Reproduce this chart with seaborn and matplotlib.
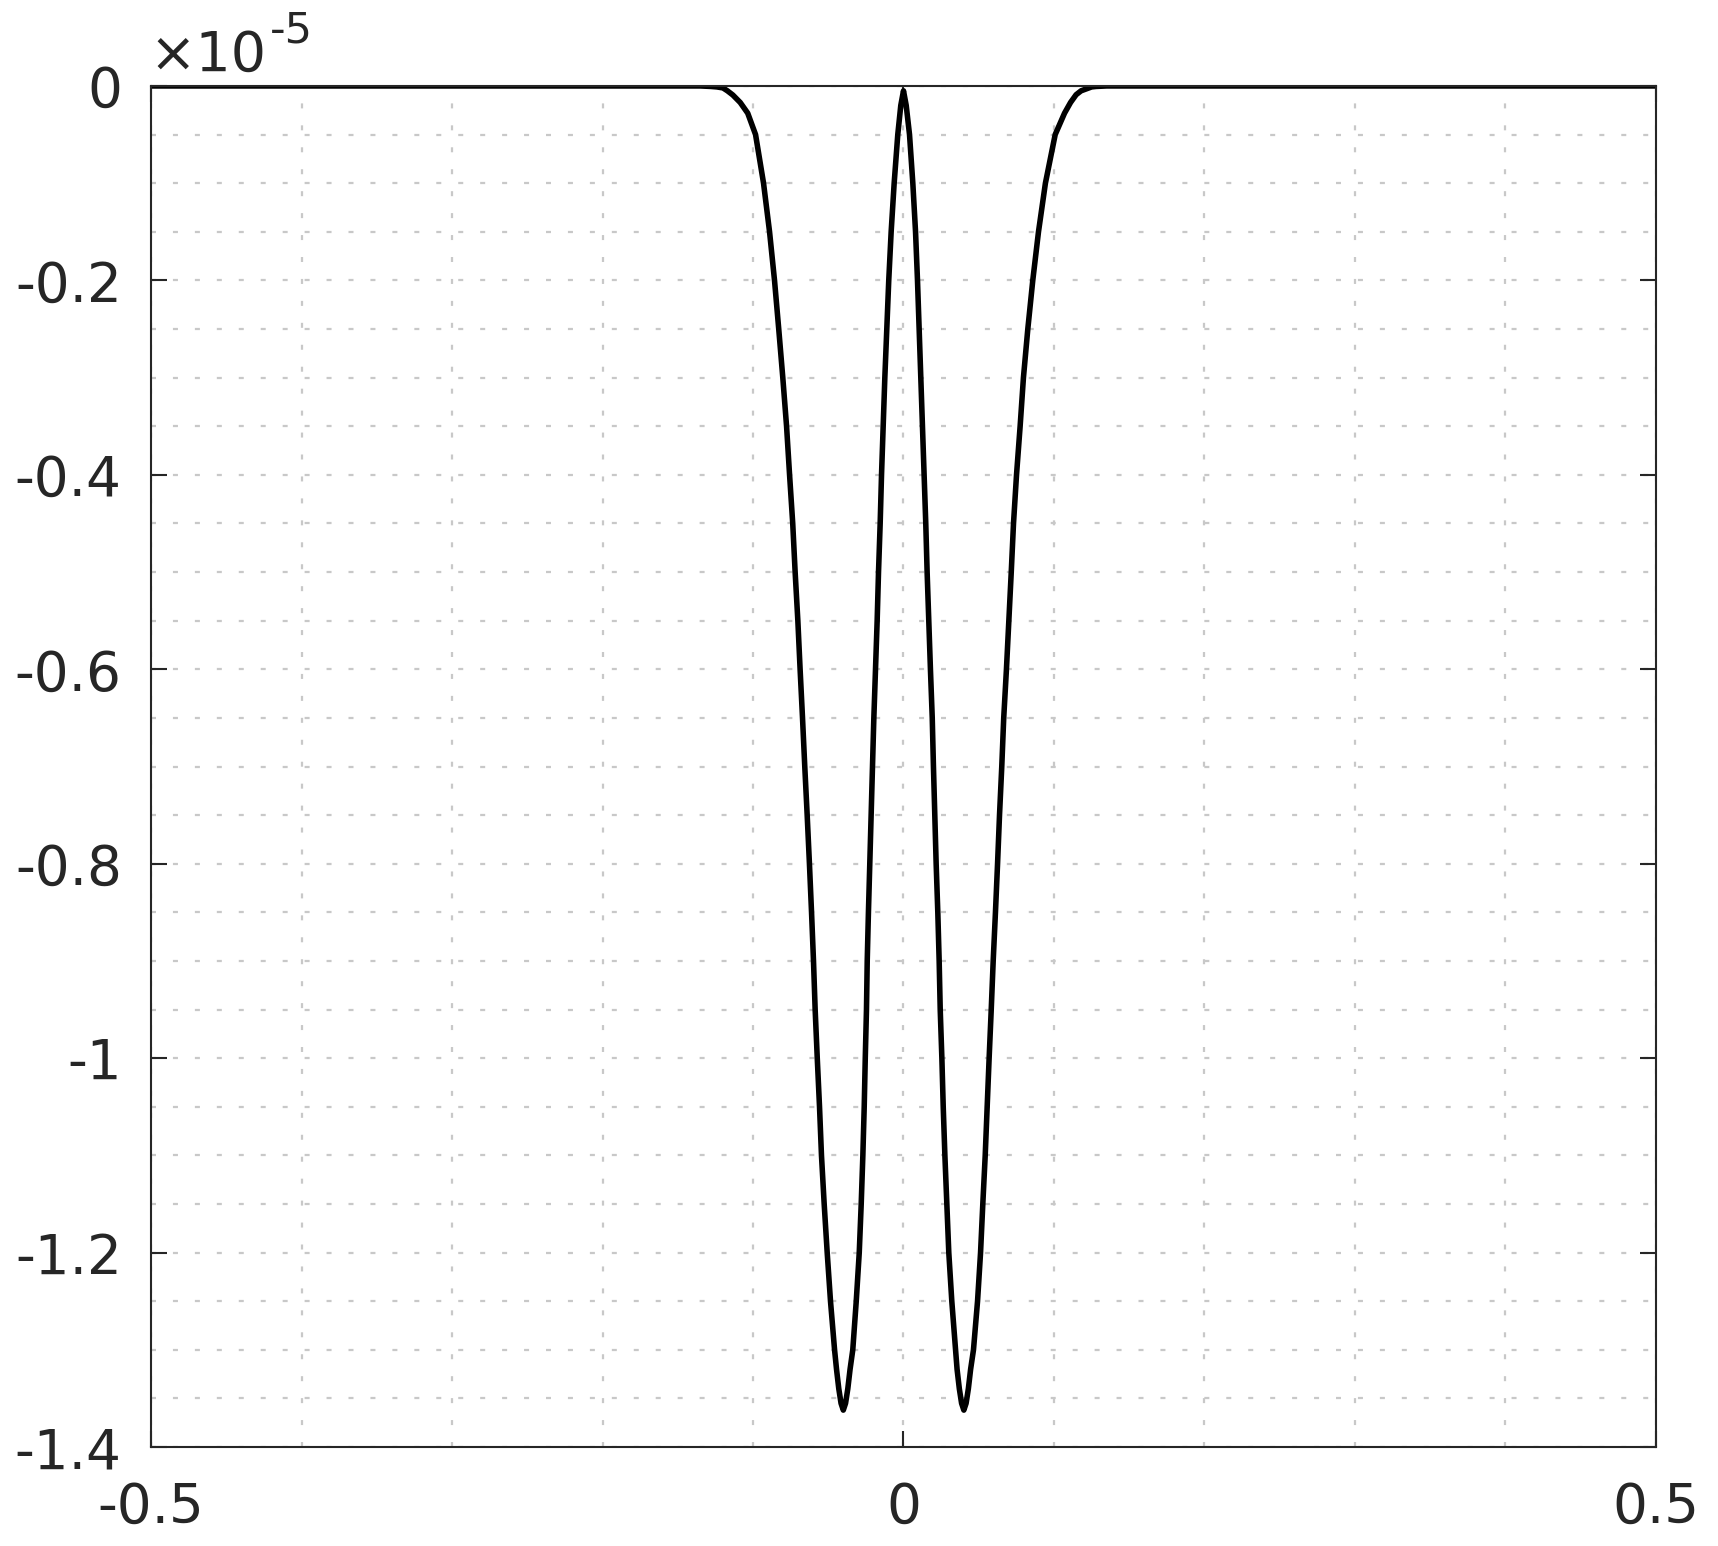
import numpy as np
import pandas as pd
import seaborn as sns
import matplotlib.pyplot as plt
from matplotlib.ticker import FixedLocator, FixedFormatter, MultipleLocator

# curve (y in units of 1e-5)
x_pos = [-0.5, -0.3, -0.15, -0.135, -0.128, -0.124, -0.120, -0.117, -0.1134, -0.1085,
         -0.1035, -0.0983, -0.0930,
         -0.0890, -0.0857, -0.0829, -0.0802, -0.0777, -0.0757, -0.0736, -0.0720, -0.0702,
         -0.0687, -0.0671, -0.0656, -0.0640, -0.0625, -0.0611, -0.0598, -0.0587, -0.0573,
         -0.0558, -0.0545, -0.0527, -0.0507, -0.0485, -0.0458, -0.0445, -0.0430, -0.0415,
         -0.0400, -0.0385, -0.0370, -0.0355, -0.0337, -0.0314, -0.0294, -0.0281, -0.0270,
         -0.0261, -0.0254,
         -0.0246, -0.0241, -0.0233, -0.0224, -0.0215, -0.0206, -0.0197, -0.0186, -0.0175,
         -0.0166, -0.0155, -0.0146, -0.0135, -0.0124, -0.0111, -0.0098, -0.0082, -0.0062,
         -0.0038, -0.0018, 0.0, 0.0018, 0.0040, 0.0062, 0.0080, 0.0093, 0.0104, 0.0115,
         0.0126, 0.0137, 0.0148, 0.0157, 0.0168, 0.0179, 0.0191, 0.0199, 0.0208, 0.0217,
         0.0228, 0.0237, 0.0244, 0.0255, 0.0264, 0.0275, 0.0288, 0.0301, 0.0321, 0.0346,
         0.0356, 0.0371, 0.0386, 0.0401, 0.0416, 0.0431, 0.0446,
         0.0465, 0.0492, 0.0512, 0.0527, 0.0543,
         0.0556, 0.0569, 0.0583, 0.0596, 0.0611, 0.0625, 0.0638, 0.0653, 0.0666, 0.0684,
         0.0700, 0.0716, 0.0731, 0.0751, 0.0775, 0.0797, 0.0826, 0.0859, 0.0897, 0.0943,
         0.1008, 0.107, 0.111, 0.1147, 0.118, 0.1214, 0.125, 0.128, 0.135, 0.15, 0.3, 0.5]
y_val = [0, 0, 0, 0, -0.0005, -0.001, -0.002, -0.005, -0.0093, -0.017,
         -0.028, -0.05, -0.10,
         -0.15, -0.20, -0.25, -0.30, -0.35, -0.40, -0.45, -0.50, -0.55,
         -0.60, -0.65, -0.70, -0.75, -0.80, -0.85, -0.90, -0.95, -1.00,
         -1.05, -1.10, -1.15, -1.20, -1.25, -1.30, -1.32, -1.34, -1.355,
         -1.362, -1.355, -1.34, -1.32, -1.30, -1.25, -1.20, -1.15, -1.10,
         -1.05, -1.00,
         -0.95, -0.90, -0.85, -0.80, -0.75, -0.70, -0.65, -0.60, -0.55,
         -0.50, -0.45, -0.40, -0.35, -0.30, -0.25, -0.20, -0.15, -0.10,
         -0.05, -0.02, -0.005, -0.02, -0.05, -0.10, -0.15, -0.20, -0.25, -0.30,
         -0.35, -0.40, -0.45, -0.50, -0.55, -0.60, -0.65, -0.70, -0.75, -0.80,
         -0.85, -0.90, -0.95, -1.00, -1.05, -1.10, -1.15, -1.20, -1.25, -1.30,
         -1.32, -1.34, -1.355, -1.362, -1.355, -1.34, -1.32,
         -1.30, -1.25, -1.20, -1.15, -1.10,
         -1.05, -1.00, -0.95, -0.90, -0.85, -0.80, -0.75, -0.70, -0.65, -0.60,
         -0.55, -0.50, -0.45, -0.40, -0.35, -0.30, -0.25, -0.20, -0.15, -0.10,
         -0.05, -0.028, -0.017, -0.009, -0.005, -0.003, -0.001, -0.0005, 0, 0, 0, 0]

x_ticks = [-0.5, 0, 0.5]
x_labels = ["-0.5", "0", "0.5"]
y_ticks = [0, -0.2, -0.4, -0.6, -0.8, -1.0, -1.2, -1.4]
y_labels = ["0", "-0.2", "-0.4", "-0.6", "-0.8", "-1", "-1.2", "-1.4"]

df = pd.DataFrame({"x": x_pos, "y": y_val})

sns.set_style("white")
plt.rcParams["font.family"] = ["DejaVu Sans"]
plt.rcParams["lines.scale_dashes"] = False

fig = plt.figure(figsize=(17.18, 15.46), dpi=100)
ax = fig.add_axes([0.0879, 0.0640, 0.876, 0.8804])

sns.lineplot(data=df, x="x", y="y", sort=False, estimator=None,
             color="black", linewidth=4.0, ax=ax)

ax.set_xlim(-0.5, 0.5)
ax.set_ylim(-1.4, 0)
ax.xaxis.set_major_locator(FixedLocator(x_ticks))
ax.xaxis.set_major_formatter(FixedFormatter(x_labels))
ax.yaxis.set_major_locator(FixedLocator(y_ticks))
ax.yaxis.set_major_formatter(FixedFormatter(y_labels))
ax.xaxis.set_minor_locator(MultipleLocator(0.1))
ax.yaxis.set_minor_locator(MultipleLocator(0.05))

grid_kw = dict(color="#c8c8c8", linewidth=1.6, linestyle=(0, (3.6, 12.2)))
ax.grid(True, which="both", **grid_kw)
ax.set_axisbelow(True)

txt = "#262626"
ax.tick_params(which="major", direction="in", length=11.5, width=1.5,
               colors=txt, labelsize=39.5,
               left=True, bottom=True, top=True, right=True)
ax.tick_params(axis="y", which="major", pad=21)
ax.tick_params(axis="x", which="major", pad=24)
ax.tick_params(which="minor", length=0)
for s in ax.spines.values():
    s.set_visible(True)
    s.set_color(txt)
    s.set_linewidth(1.5)

ax.set_xlabel("")
ax.set_ylabel("")

# multiplier shown above the y axis
fig.text(0.087, 0.9541, "\u00d710", fontsize=40, color=txt, ha="left", va="baseline")
fig.text(0.157, 0.9722, "-5", fontsize=31, color=txt, ha="left", va="baseline")

fig.savefig("out.png", dpi=100)
